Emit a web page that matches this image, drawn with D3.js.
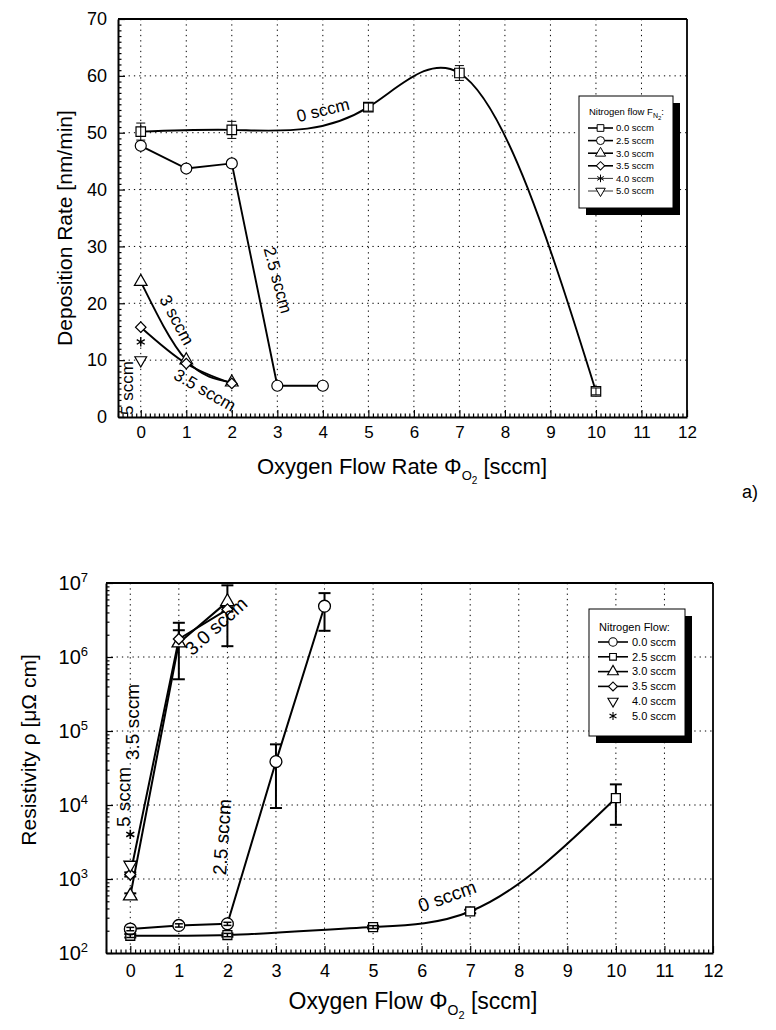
<!DOCTYPE html>
<html><head><meta charset="utf-8">
<script src="https://cdn.jsdelivr.net/npm/d3@7"></script>
<style>
body{margin:0;background:#fff}
svg{display:block}
text{font-family:"Liberation Sans",Arial,Helvetica,sans-serif;fill:#000}
</style>
</head><body>
<svg id="c" width="776" height="1030"></svg>
<script>
// ================= DATA =================
const xTicks = [0,1,2,3,4,5,6,7,8,9,10,11,12];
// --- chart a) deposition rate
const depYTicks = [0,10,20,30,40,50,60,70];
const dep00x = [0,2,5,7,10];
const dep00y = [50.2,50.5,54.5,60.5,4.5];
const dep00err = [1.5,1.5,0.7,1.3,0.6];
const dep25x = [0,1,2,3,4];
const dep25y = [47.7,43.7,44.6,5.5,5.5];
const dep30x = [0,1,2];
const dep30y = [23.8,10.0,6.1];
const dep35x = [0,1,2];
const dep35y = [15.8,9.4,5.9];
const dep40x = [0];
const dep40y = [13.2];
const dep50x = [0];
const dep50y = [10.0];
const depLegendLabels = ["0.0 sccm","2.5 sccm","3.0 sccm","3.5 sccm","4.0 sccm","5.0 sccm"];
// --- chart b) resistivity
const resYTicks = [1e2,1e3,1e4,1e5,1e6,1e7];
const resYExp = [2,3,4,5,6,7];
const res00x = [0,2,5,7,10];
const res00y = [171,175,224,364,12400];
const res00lo = [162,166,214,345,5400];
const res00hi = [180,184,234,384,19000];
const res25x = [0,1,2,3,4];
const res25y = [211,236,248,38600,4.86e6];
const res25lo = [200,224,236,9100,2.26e6];
const res25hi = [222,248,260,66000,7.3e6];
const res30x = [0,1,2];
const res30y = [590,1.55e6,5.6e6];
const res30lo = [545,5.0e5,1.4e6];
const res30hi = [640,2.9e6,9.3e6];
const res35x = [0,1,2];
const res35y = [1150,1.75e6,4.4e6];
const res35lo = [1080,1.45e6,4.1e6];
const res35hi = [1230,2.3e6,4.7e6];
const res40x = [0];
const res40y = [1550];
const res50x = [0];
const res50y = [4000];
const resLegendLabels = ["0.0 sccm","2.5 sccm","3.0 sccm","3.5 sccm","4.0 sccm","5.0 sccm"];

// ================= CUSTOM D3 CURVE: natural cubic spline y(x) =================
function CurveNaturalX(context){ this._context = context; }
CurveNaturalX.prototype = {
  areaStart(){}, areaEnd(){},
  lineStart(){ this._x=[]; this._y=[]; },
  point(x,y){ this._x.push(+x); this._y.push(+y); },
  lineEnd(){
    const x=this._x, y=this._y, n=x.length, ctx=this._context;
    if(!n) return;
    ctx.moveTo(x[0],y[0]);
    if(n===1) return;
    if(n===2){ ctx.lineTo(x[1],y[1]); return; }
    const h=[], s=[];
    for(let i=0;i<n-1;i++){ h[i]=x[i+1]-x[i]; s[i]=(y[i+1]-y[i])/h[i]; }
    const m=n-2, a=[], b=[], c=[], r=[];
    for(let k=0;k<m;k++){ const i=k+1; a[k]=h[i-1]; b[k]=2*(h[i-1]+h[i]); c[k]=h[i]; r[k]=6*(s[i]-s[i-1]); }
    for(let k=1;k<m;k++){ const w=a[k]/b[k-1]; b[k]-=w*c[k-1]; r[k]-=w*r[k-1]; }
    const M=new Array(n).fill(0);
    for(let k=m-1;k>=0;k--) M[k+1]=(r[k]-c[k]*M[k+2])/b[k];
    for(let i=0;i<n-1;i++){
      const d0 = s[i] - h[i]*(2*M[i]+M[i+1])/6;
      const d1 = s[i] + h[i]*(M[i]+2*M[i+1])/6;
      ctx.bezierCurveTo(x[i]+h[i]/3, y[i]+d0*h[i]/3, x[i+1]-h[i]/3, y[i+1]-d1*h[i]/3, x[i+1], y[i+1]);
    }
  }
};
const curveNaturalX = ctx => new CurveNaturalX(ctx);

// ================= DRAWING =================
const svg = d3.select("#c");
const zip = (xs, ys) => xs.map((x,i)=>[x, ys[i]]);

function sym(type, size){
  const map = {square:d3.symbolSquare, circle:d3.symbolCircle, triangle:d3.symbolTriangle,
    diamond:d3.symbolSquare, tridown:d3.symbolTriangle, star:d3.symbolAsterisk};
  return d3.symbol().type(map[type]).size(size)();
}
function rot(type){ return type==="diamond"?45:(type==="tridown"?180:0); }

function drawMarkers(g, pts, x, y, type, size, sw){
  g.selectAll(null).data(pts).enter().append("path")
    .attr("d", sym(type,size))
    .attr("transform", d=>`translate(${x(d[0])},${y(d[1])}) rotate(${rot(type)})`)
    .attr("fill", type==="star"?"none":"#fff")
    .attr("stroke","#000").attr("stroke-width", sw);
}
function drawErr(g, xs, lo, hi, x, y, cap, sw){
  const gg = g.append("g").attr("stroke","#000").attr("stroke-width",sw);
  xs.forEach((xv,i)=>{
    const px = x(xv), y1 = y(lo[i]), y2 = y(hi[i]);
    gg.append("line").attr("x1",px).attr("x2",px).attr("y1",y1).attr("y2",y2);
    gg.append("line").attr("x1",px-cap).attr("x2",px+cap).attr("y1",y1).attr("y2",y1);
    gg.append("line").attr("x1",px-cap).attr("x2",px+cap).attr("y1",y2).attr("y2",y2);
  });
}
function drawLine(g, pts, x, y, curve, sw){
  g.append("path").datum(pts)
    .attr("d", d3.line().x(d=>x(d[0])).y(d=>y(d[1])).curve(curve))
    .attr("fill","none").attr("stroke","#000").attr("stroke-width",sw);
}
function label(g, txt, cx, cy, angle, fs){
  g.append("text").attr("transform",`translate(${cx},${cy}) rotate(${angle})`)
    .attr("text-anchor","middle").attr("dy","0.35em").attr("font-size",fs).text(txt);
}
function minorX(){ return d3.range(-5,121).map(v=>v/10).filter(v=>Math.round(v*10)%10!==0); }

// ---------- chart a ----------
(function(){
  const T = {l:118, r:687, t:19, b:417};
  const x = d3.scaleLinear().domain([-0.5,12]).range([T.l,T.r]);
  const y = d3.scaleLinear().domain([0,70]).range([T.b,T.t]);
  const g = svg.append("g");
  const gr = g.append("g").attr("stroke","#000").attr("stroke-width",1).attr("stroke-dasharray","1.3,4");
  xTicks.filter(v=>v<12).forEach(v=>gr.append("line").attr("x1",x(v)).attr("x2",x(v)).attr("y1",T.t).attr("y2",T.b));
  depYTicks.filter(v=>v>0&&v<70).forEach(v=>gr.append("line").attr("x1",T.l).attr("x2",T.r).attr("y1",y(v)).attr("y2",y(v)));
  g.append("line").attr("x1",T.l).attr("x2",T.r).attr("y1",T.t).attr("y2",T.t).attr("stroke","#000").attr("stroke-width",1.8);
  g.append("line").attr("x1",T.r).attr("x2",T.r).attr("y1",T.t).attr("y2",T.b).attr("stroke","#000").attr("stroke-width",1.8);
  const ax = g.append("g").attr("transform",`translate(0,${T.b})`)
    .call(d3.axisBottom(x).tickValues(xTicks).tickSizeInner(-7).tickSizeOuter(0).tickPadding(9).tickFormat(d3.format("d")));
  g.append("g").attr("transform",`translate(0,${T.b})`)
    .call(d3.axisBottom(x).tickValues(minorX()).tickSize(-3.5).tickFormat("")).select(".domain").remove();
  const ay = g.append("g").attr("transform",`translate(${T.l},0)`)
    .call(d3.axisLeft(y).tickValues(depYTicks).tickSizeInner(-7).tickSizeOuter(0).tickPadding(11));
  g.append("g").attr("transform",`translate(${T.l},0)`)
    .call(d3.axisLeft(y).tickValues(d3.range(0,71).filter(v=>v%10!==0)).tickSize(-3.5).tickFormat("")).select(".domain").remove();
  [ax,ay].forEach(a=>{a.select(".domain").attr("stroke-width",2); a.selectAll("text").attr("font-size",17).attr("font-family","Liberation Sans, Arial");});
  ay.selectAll("text").attr("font-size",18);
  g.selectAll(".tick line").attr("stroke-width",1.2);
  g.append("text").attr("transform",`translate(72,228) rotate(-90)`).attr("text-anchor","middle")
    .attr("font-size",21).text("Deposition Rate [nm/min]");
  const xt = g.append("text").attr("x",402).attr("y",474).attr("text-anchor","middle").attr("font-size",22);
  xt.append("tspan").text("Oxygen Flow Rate \u03A6");
  xt.append("tspan").attr("font-size",13).attr("dy",6).text("O");
  xt.append("tspan").attr("font-size",10).attr("dy",4).text("2");
  xt.append("tspan").attr("dy",-10).text(" [sccm]");
  g.append("text").attr("x",742).attr("y",498).attr("font-size",18).attr("font-family","Liberation Serif, Times New Roman, serif").text("a)");

  const d = g.append("g");
  drawLine(d, zip(dep00x,dep00y), x, y, curveNaturalX, 1.9);
  drawLine(d, zip(dep25x,dep25y), x, y, d3.curveLinear, 1.9);
  drawLine(d, zip(dep30x,dep30y), x, y, curveNaturalX, 1.9);
  drawLine(d, zip(dep35x,dep35y), x, y, curveNaturalX, 1.9);
  drawMarkers(d, zip(dep30x,dep30y), x, y, "triangle", 70, 1.2);
  drawMarkers(d, zip(dep25x,dep25y), x, y, "circle", 95, 1.2);
  drawMarkers(d, zip(dep35x,dep35y), x, y, "diamond", 55, 1.2);
  drawMarkers(d, zip(dep40x,dep40y), x, y, "star", 60, 1.4);
  drawMarkers(d, zip(dep50x,dep50y), x, y, "tridown", 60, 1.2);
  drawMarkers(d, zip(dep00x,dep00y), x, y, "square", 90, 1.2);
  drawErr(d, dep00x, dep00y.map((v,i)=>v-dep00err[i]), dep00y.map((v,i)=>v+dep00err[i]), x, y, 4.5, 1);
  label(d, "0 sccm", 323, 110, -14, 17);
  label(d, "2.5 sccm", 278, 280, 75, 17);
  label(d, "3 sccm", 177, 320, 62, 17);
  label(d, "3.5 sccm", 205, 390, 30, 17);
  label(d, "5 sccm", 127, 388, -90, 17);

  const L = {x:579, y:96, w:94, h:112};
  const lg = g.append("g");
  lg.append("rect").attr("x",L.x+7).attr("y",L.y+7).attr("width",L.w).attr("height",L.h).attr("fill","#000");
  lg.append("rect").attr("x",L.x).attr("y",L.y).attr("width",L.w).attr("height",L.h).attr("fill","#fff").attr("stroke","#000").attr("stroke-width",1);
  const lt = lg.append("text").attr("x",L.x+10).attr("y",L.y+19).attr("font-size",9.5);
  lt.append("tspan").text("Nitrogen flow F");
  lt.append("tspan").attr("font-size",7).attr("dy",3).text("N");
  lt.append("tspan").attr("font-size",6).attr("dy",2).text("2");
  lt.append("tspan").attr("dy",-5).text(":");
  const types = ["square","circle","triangle","diamond","star","tridown"];
  const sizes = [45,50,45,35,40,40];
  depLegendLabels.forEach((t,i)=>{
    const yy = L.y + 32 + i*12.6;
    lg.append("line").attr("x1",L.x+9).attr("x2",L.x+34).attr("y1",yy).attr("y2",yy).attr("stroke","#000").attr("stroke-width",i<4?1.6:0.8);
    lg.append("path").attr("d",sym(types[i],sizes[i])).attr("transform",`translate(${L.x+21.5},${yy}) rotate(${rot(types[i])})`)
      .attr("fill",types[i]==="star"?"none":"#fff").attr("stroke","#000").attr("stroke-width",1);
    lg.append("text").attr("x",L.x+37).attr("y",yy).attr("dy","0.35em").attr("font-size",9.5).text(t);
  });
})();

// ---------- chart b ----------
(function(){
  const B = {l:106, r:713, t:583, b:953};
  const x = d3.scaleLinear().domain([-0.5,12]).range([B.l,B.r]);
  const y = d3.scaleLog().domain([1e2,1e7]).range([B.b,B.t]);
  const g = svg.append("g");
  const gr = g.append("g").attr("stroke","#000").attr("stroke-width",1).attr("stroke-dasharray","1.3,4");
  xTicks.filter(v=>v<12).forEach(v=>gr.append("line").attr("x1",x(v)).attr("x2",x(v)).attr("y1",B.t).attr("y2",B.b));
  resYTicks.slice(1,-1).forEach(v=>gr.append("line").attr("x1",B.l).attr("x2",B.r).attr("y1",y(v)).attr("y2",y(v)));
  g.append("line").attr("x1",B.l).attr("x2",B.r).attr("y1",B.t).attr("y2",B.t).attr("stroke","#000").attr("stroke-width",1.8);
  g.append("line").attr("x1",B.r).attr("x2",B.r).attr("y1",B.t).attr("y2",B.b).attr("stroke","#000").attr("stroke-width",1.8);
  const ax = g.append("g").attr("transform",`translate(0,${B.b})`)
    .call(d3.axisBottom(x).tickValues(xTicks).tickSizeInner(-7).tickSizeOuter(0).tickPadding(11).tickFormat(d3.format("d")));
  g.append("g").attr("transform",`translate(0,${B.b})`)
    .call(d3.axisBottom(x).tickValues(minorX()).tickSize(-3.5).tickFormat("")).select(".domain").remove();
  const ay = g.append("g").attr("transform",`translate(${B.l},0)`)
    .call(d3.axisLeft(y).tickValues(resYTicks).tickSizeInner(-7).tickSizeOuter(0).tickPadding(11).tickFormat(""));
  const minY = [];
  resYExp.slice(0,-1).forEach(e=>{ for(let m=2;m<=9;m++) minY.push(m*Math.pow(10,e)); });
  g.append("g").attr("transform",`translate(${B.l},0)`)
    .call(d3.axisLeft(y).tickValues(minY).tickSize(-3.5).tickFormat("")).select(".domain").remove();
  [ax,ay].forEach(a=>a.select(".domain").attr("stroke-width",2));
  ax.selectAll("text").attr("font-size",18);
  ay.selectAll(".tick").each(function(d,i){
    const t = d3.select(this).select("text").attr("x",-18).attr("dy","0.32em").attr("font-size",20);
    t.append("tspan").text("10");
    t.append("tspan").attr("font-size",13).attr("dy",-8).text(resYExp[i]);
  });
  g.selectAll(".tick line").attr("stroke-width",1.2);
  g.append("text").attr("transform",`translate(36,750) rotate(-90)`).attr("text-anchor","middle").attr("font-size",21)
    .text("Resistivity \u03C1  [\u03BC\u03A9 cm]");
  const xt = g.append("text").attr("x",413).attr("y",1009).attr("text-anchor","middle").attr("font-size",23);
  xt.append("tspan").text("Oxygen Flow \u03A6");
  xt.append("tspan").attr("font-size",14).attr("dy",6).text("O");
  xt.append("tspan").attr("font-size",11).attr("dy",4).text("2");
  xt.append("tspan").attr("dy",-10).text(" [sccm]");

  const d = g.append("g");
  drawLine(d, zip(res00x,res00y), x, y, curveNaturalX, 2);
  drawLine(d, zip(res25x,res25y), x, y, d3.curveLinear, 2);
  drawLine(d, zip(res30x,res30y), x, y, d3.curveLinear, 2);
  drawLine(d, zip(res35x,res35y), x, y, d3.curveLinear, 2);
  drawErr(d, res30x, res30lo, res30hi, x, y, 6, 2);
  drawErr(d, res35x, res35lo, res35hi, x, y, 6, 2);
  drawErr(d, res25x, res25lo, res25hi, x, y, 6, 2);
  drawErr(d, res00x, res00lo, res00hi, x, y, 6, 2);
  drawMarkers(d, zip(res00x,res00y), x, y, "square", 80, 1.3);
  drawMarkers(d, zip(res25x,res25y), x, y, "circle", 110, 1.3);
  drawMarkers(d, zip(res30x,res30y), x, y, "triangle", 80, 1.3);
  drawMarkers(d, zip(res35x,res35y), x, y, "diamond", 60, 1.3);
  drawMarkers(d, zip(res40x,res40y), x, y, "tridown", 70, 1.3);
  drawMarkers(d, zip(res50x,res50y), x, y, "star", 60, 1.6);
  drawErr(d, res00x.slice(0,3), res00lo.slice(0,3), res00hi.slice(0,3), x, y, 4, 1.5);
  drawErr(d, res25x.slice(0,3), res25lo.slice(0,3), res25hi.slice(0,3), x, y, 4, 1.5);
  label(d, "3.0 sccm", 216, 626, -42, 19);
  label(d, "3.5 sccm", 132, 722, -90, 19);
  label(d, "5 sccm", 123, 797, -90, 19);
  label(d, "2.5 sccm", 222, 837, -86, 19);
  label(d, "0 sccm", 447, 896, -20, 19);

  const L = {x:589, y:609, w:96, h:127};
  const lg = g.append("g");
  lg.append("rect").attr("x",L.x+7).attr("y",L.y+7).attr("width",L.w).attr("height",L.h).attr("fill","#000");
  lg.append("rect").attr("x",L.x).attr("y",L.y).attr("width",L.w).attr("height",L.h).attr("fill","#fff").attr("stroke","#000").attr("stroke-width",1);
  lg.append("text").attr("x",L.x+10).attr("y",L.y+18).attr("dy","0.35em").attr("font-size",11).text("Nitrogen Flow:");
  const types = ["circle","square","triangle","diamond","tridown","star"];
  const sizes = [55,45,50,40,45,45];
  resLegendLabels.forEach((t,i)=>{
    const yy = L.y + 33 + i*14.8;
    if(i<4) lg.append("line").attr("x1",L.x+9).attr("x2",L.x+39).attr("y1",yy).attr("y2",yy).attr("stroke","#000").attr("stroke-width",1.6);
    lg.append("path").attr("d",sym(types[i],sizes[i])).attr("transform",`translate(${L.x+24},${yy}) rotate(${rot(types[i])})`)
      .attr("fill",types[i]==="star"?"none":"#fff").attr("stroke","#000").attr("stroke-width",1.1);
    lg.append("text").attr("x",L.x+43).attr("y",yy).attr("dy","0.35em").attr("font-size",11).text(t);
  });
})();
</script>
</body></html>
